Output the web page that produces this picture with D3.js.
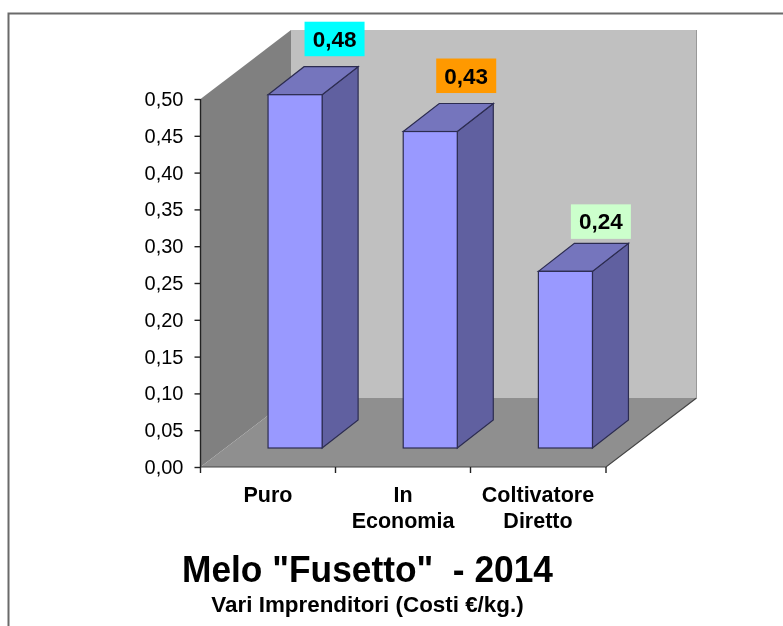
<!DOCTYPE html>
<html><head><meta charset="utf-8">
<script src="https://cdn.jsdelivr.net/npm/d3@7"></script>
<style>html,body{margin:0;background:#fff}svg{display:block;filter:blur(.55px)}text{font-family:"Liberation Sans",Arial,sans-serif}</style>
</head><body><svg width="783" height="626"></svg>
<script>
const categories=[["Puro"],["In","Economia"],["Coltivatore","Diretto"]];
const values=[0.48,0.43,0.24];
const valueLabels=["0,48","0,43","0,24"];
const labelColors=["#00FFFF","#FF9900","#CCFFCC"];
const yTicks=[0,0.05,0.10,0.15,0.20,0.25,0.30,0.35,0.40,0.45,0.50];
const svg=d3.select("svg");
const L=200.5,R=606,B=467,T=99,DX=90.5,DY=69,BX=27,BY=19,BDX=36,BDY=28;
const labelDx=[66.5,63,62.5],labelDy=[-73,-73,-67];
const y=d3.scaleLinear().domain([0,0.5]).range([B,T]);
const x=d3.scaleBand().domain(d3.range(3)).range([L,R]).paddingInner(0.6).paddingOuter(0.3);
const pts=a=>a.map(p=>p.join(",")).join(" ");
// frame
svg.append("path").attr("d","M8.5,626V13.5H783").attr("fill","none").attr("stroke","#6a6a6a").attr("stroke-width",2);
// walls
svg.append("polygon").attr("points",pts([[L+DX,T-DY],[R+DX,T-DY],[R+DX,B-DY],[L+DX,B-DY]])).attr("fill","#C0C0C0");
svg.append("polygon").attr("points",pts([[L,T],[L+DX,T-DY],[L+DX,B-DY],[L,B]])).attr("fill","#808080");
svg.append("polygon").attr("points",pts([[L,B],[L+DX,B-DY],[R+DX,B-DY],[R,B]])).attr("fill","#8F8F8F");
svg.append("path").attr("d",`M${L},${B}H${R}L${R+DX},${B-DY}`).attr("fill","none").attr("stroke","#444").attr("stroke-width",1.2);
svg.append("path").attr("d",`M${R+DX},${B-DY}V${T-DY}`).attr("fill","none").attr("stroke","#999").attr("stroke-width",1);
// axes
const yAxis=d3.axisLeft(y).tickValues(yTicks).tickFormat(d=>d3.format(".2f")(d).replace(".",",")).tickSize(6).tickPadding(11);
const gy=svg.append("g").attr("transform",`translate(${L},0)`).call(yAxis);
gy.selectAll("text").attr("font-size",20).attr("font-family","Liberation Sans").attr("fill","#000");
gy.selectAll("line,path").attr("stroke","#222").attr("stroke-width",1.4);
gy.select("path").attr("d",`M0,${T}V${B}`);
const xt=[L,L+135,L+270,R];
svg.append("g").selectAll("line").data(xt).join("line").attr("x1",d=>d).attr("x2",d=>d).attr("y1",B).attr("y2",B+6).attr("stroke","#222").attr("stroke-width",1.4);
// bars
const g=svg.append("g").selectAll("g").data(values).join("g");
const fx=(d,i)=>x(i)+BX, barTop=d=>B-BY-(B-y(d)), bot=B-BY, w=x.bandwidth();
g.append("polygon").attr("fill","#6060A0").attr("stroke","#2c2c50").attr("stroke-width",1.2).attr("points",(d,i)=>pts([[fx(d,i)+w,barTop(d)],[fx(d,i)+w+BDX,barTop(d)-BDY],[fx(d,i)+w+BDX,bot-BDY],[fx(d,i)+w,bot]]));
g.append("polygon").attr("fill","#7575BD").attr("stroke","#2c2c50").attr("stroke-width",1.2).attr("points",(d,i)=>pts([[fx(d,i),barTop(d)],[fx(d,i)+BDX,barTop(d)-BDY],[fx(d,i)+w+BDX,barTop(d)-BDY],[fx(d,i)+w,barTop(d)]]));
g.append("rect").attr("fill","#9999FF").attr("stroke","#2c2c50").attr("stroke-width",1.2).attr("x",fx).attr("y",d=>barTop(d)).attr("width",w).attr("height",d=>bot-barTop(d));
// value labels
g.append("rect").attr("fill",(d,i)=>labelColors[i]).attr("x",(d,i)=>fx(d,i)+labelDx[i]-30).attr("y",(d,i)=>barTop(d)+labelDy[i]).attr("width",60).attr("height",34.5);
g.append("text").text((d,i)=>valueLabels[i]).attr("x",(d,i)=>fx(d,i)+labelDx[i]).attr("y",(d,i)=>barTop(d)+labelDy[i]+25).attr("text-anchor","middle").attr("font-size",22.5).attr("font-weight","bold").attr("fill","#000");
// categories
const cat=svg.append("g").selectAll("text").data(categories).join("text").attr("text-anchor","middle").attr("font-size",21.5).attr("font-weight","bold").attr("fill","#000");
cat.selectAll("tspan").data((d,i)=>d.map(t=>({t,i}))).join("tspan").attr("x",d=>L+67.5+135*d.i).attr("y",(d,j)=>502+j*25.5).text(d=>d.t);
// titles
svg.append("text").text('Melo "Fusetto"  - 2014').style("white-space","pre").attr("x",367.5).attr("y",581.5).attr("text-anchor","middle").attr("font-size",37).attr("font-weight","bold").attr("fill","#000").attr("textLength",371).attr("lengthAdjust","spacingAndGlyphs");
svg.append("text").text('Vari Imprenditori (Costi €/kg.)').attr("x",367.5).attr("y",612).attr("text-anchor","middle").attr("font-size",22.4).attr("font-weight","bold").attr("fill","#000");
</script></body></html>
